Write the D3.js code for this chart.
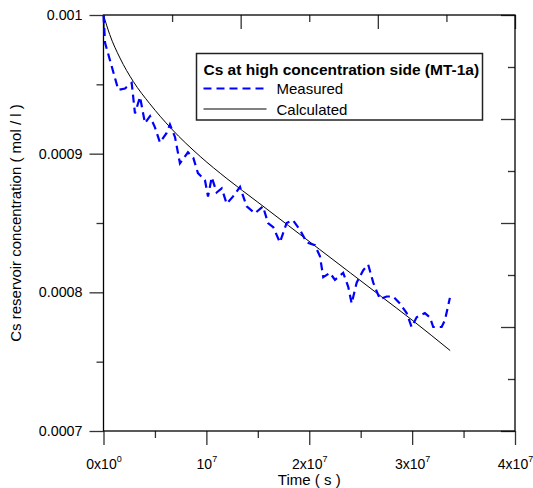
<!DOCTYPE html>
<html>
<head>
<meta charset="utf-8">
<script src="https://cdn.jsdelivr.net/npm/d3@7"></script>
<style>
  body { margin: 0; background: #fff; }
  text { font-family: "Liberation Sans", Arial, sans-serif; }
</style>
</head>
<body>
<div id="chart"></div>
<script>
// measured reservoir concentration (time in s, conc in mol/l)
var measuredTime = [0, 1.5e5, 1.44e6, 2.09e6, 2.74e6, 3.06e6, 3.55e6, 4.03e6, 4.52e6, 5.00e6,
  5.49e6, 6.14e6, 6.46e6, 6.95e6, 7.43e6, 8.21e6, 8.73e6, 9.18e6, 9.86e6, 1.016e7,
  1.052e7, 1.100e7, 1.149e7, 1.197e7, 1.258e7, 1.327e7, 1.392e7, 1.472e7, 1.550e7, 1.599e7,
  1.650e7, 1.715e7, 1.780e7, 1.842e7, 1.910e7, 1.975e7, 2.055e7, 2.104e7, 2.136e7, 2.201e7,
  2.250e7, 2.330e7, 2.379e7, 2.412e7, 2.461e7, 2.525e7, 2.573e7, 2.622e7, 2.687e7, 2.752e7,
  2.816e7, 2.881e7, 2.947e7, 2.995e7, 3.044e7, 3.124e7, 3.173e7, 3.205e7, 3.287e7, 3.319e7,
  3.367e7];
var measuredConc = [0.001, 0.000980, 0.000946, 0.000947, 0.000951, 0.000929, 0.000941, 0.000922, 0.000927, 0.000919,
  0.000908, 0.000915, 0.000921, 0.000912, 0.000893, 0.000901, 0.000897, 0.000886, 0.000881, 0.000869,
  0.000883, 0.000872, 0.000875, 0.000864, 0.000869, 0.000876, 0.000862, 0.000857, 0.000862, 0.000850,
  0.000847, 0.000836, 0.000850, 0.000852, 0.000845, 0.000836, 0.000834, 0.000826, 0.000811, 0.000814,
  0.000809, 0.000814, 0.000804, 0.000792, 0.000807, 0.000816, 0.000820, 0.000807, 0.000795, 0.000797,
  0.000797, 0.000792, 0.000785, 0.000775, 0.000782, 0.000785, 0.000782, 0.000775, 0.000775, 0.000780,
  0.000796];

// calculated curve
var calcTime = [0, 6e5, 1.6e6, 2.9e6, 4.5e6, 6.6e6, 9.4e6, 1.2e7, 1.5e7, 1.8e7, 2.1e7, 2.4e7, 2.7e7, 3.0e7, 3.37e7];
var calcConc = [0.001, 0.000986, 0.000969, 0.000952, 0.000936, 0.000918, 0.000898, 0.000882, 0.000865, 0.000848,
  0.000831, 0.000814, 0.000797, 0.000780, 0.000758];

// ticks
var xMajor = [0, 1e7, 2e7, 3e7, 4e7];
var xMinor = [0.5e7, 1.5e7, 2.5e7, 3.5e7];
var xTickBase = ["0x10", "10", "2x10", "3x10", "4x10"];
var xTickExp = ["0", "7", "7", "7", "7"];
var yMajor = [0.0007, 0.0008, 0.0009, 0.001];
var yMinor = [0.00075, 0.00085, 0.00095];
var yTickLabels = ["0.0007", "0.0008", "0.0009", "0.001"];
// top and right frame ticks (own divisions)
var topMajor = [0, 2, 4, 6], topMinor = [1, 3, 5];
var rightMajor = [0, 2, 4, 6, 8], rightMinor = [1, 3, 5, 7];

var margin = {top: 15, right: 18, bottom: 57, left: 103.5},
    width = 533 - margin.left - margin.right,
    height = 488 - margin.top - margin.bottom;

var svg = d3.select("#chart").append("svg")
    .attr("width", 533)
    .attr("height", 488)
  .append("g")
    .attr("transform", "translate(" + margin.left + "," + margin.top + ")");

var x = d3.scaleLinear().domain([0, 4e7]).range([0, width]);
var y = d3.scaleLinear().domain([0.0007, 0.001]).range([height, 0]);
var xTop = d3.scaleLinear().domain([0, 6]).range([0, width]);
var yRight = d3.scaleLinear().domain([0, 8]).range([height, 0]);

function styleAxis(g) {
  g.select(".domain").remove();
  g.selectAll(".tick line").attr("stroke", "#333").attr("stroke-width", 1.3);
}

// bottom axis
var gx = svg.append("g").attr("transform", "translate(0," + height + ")");
gx.append("g").call(d3.axisBottom(x).tickValues(xMinor).tickSize(7).tickFormat("")).call(styleAxis);
var gxMaj = gx.append("g").call(d3.axisBottom(x).tickValues(xMajor).tickSize(14).tickFormat("")).call(styleAxis);
gxMaj.selectAll(".tick text").each(function(d, i) {
  var t = d3.select(this).attr("y", 38).attr("dy", 0).attr("fill", "#000").attr("font-size", 14);
  t.append("tspan").text(xTickBase[i]);
  t.append("tspan").attr("font-size", 9).attr("dy", -7).text(xTickExp[i]);
});

// left axis
var gy = svg.append("g");
gy.append("g").call(d3.axisLeft(y).tickValues(yMinor).tickSize(7).tickFormat("")).call(styleAxis);
gy.append("g").call(d3.axisLeft(y).tickValues(yMajor).tickSize(14).tickPadding(7)
    .tickFormat(function(d, i) { return yTickLabels[i]; }))
  .call(styleAxis)
  .selectAll(".tick text").attr("fill", "#000").attr("font-size", 14.3);

// top axis (inward ticks)
svg.append("g").call(d3.axisBottom(xTop).tickValues(topMinor).tickSize(7).tickFormat("")).call(styleAxis);
svg.append("g").call(d3.axisBottom(xTop).tickValues(topMajor).tickSize(14).tickFormat("")).call(styleAxis);

// right axis (inward ticks)
var gr = svg.append("g").attr("transform", "translate(" + width + ",0)");
gr.append("g").call(d3.axisLeft(yRight).tickValues(rightMinor).tickSize(7).tickFormat("")).call(styleAxis);
gr.append("g").call(d3.axisLeft(yRight).tickValues(rightMajor).tickSize(14).tickFormat("")).call(styleAxis);

// frame
svg.append("rect")
    .attr("width", width)
    .attr("height", height)
    .attr("fill", "none")
    .attr("stroke", "#000")
    .attr("stroke-width", 1.3);

// lines
var calcData = calcTime.map(function(t, i) { return [t, calcConc[i]]; });
var measData = measuredTime.map(function(t, i) { return [t, measuredConc[i]]; });

svg.append("path")
    .datum(calcData)
    .attr("fill", "none")
    .attr("stroke", "#000")
    .attr("stroke-width", 1)
    .attr("d", d3.line().curve(d3.curveMonotoneX)
      .x(function(d) { return x(d[0]); })
      .y(function(d) { return y(d[1]); }));

svg.append("path")
    .datum(measData)
    .attr("fill", "none")
    .attr("stroke", "#0000ff")
    .attr("stroke-width", 2.2)
    .attr("stroke-dasharray", "8,5")
    .attr("d", d3.line()
      .x(function(d) { return x(d[0]); })
      .y(function(d) { return y(d[1]); }));

// axis titles
svg.append("text")
    .attr("x", width / 2)
    .attr("y", height + 54)
    .attr("text-anchor", "middle")
    .attr("font-size", 15)
    .text("Time ( s )");

svg.append("text")
    .attr("transform", "rotate(-90)")
    .attr("x", -height / 2)
    .attr("y", -margin.left + 21)
    .attr("text-anchor", "middle")
    .attr("font-size", 15)
    .text("Cs reservoir concentration ( mol / l )");

// legend
var lg = svg.append("g").attr("transform", "translate(" + (196.5 - margin.left) + "," + (53.5 - margin.top) + ")");
lg.append("rect")
    .attr("width", 286)
    .attr("height", 66.5)
    .attr("fill", "#fff")
    .attr("stroke", "#222")
    .attr("stroke-width", 1.5);
lg.append("text")
    .attr("x", 7)
    .attr("y", 21.5)
    .attr("font-size", 15.5)
    .attr("font-weight", "bold")
    .text("Cs at high concentration side (MT-1a)");
lg.append("line")
    .attr("x1", 7).attr("x2", 70).attr("y1", 35).attr("y2", 35)
    .attr("stroke", "#0000ff").attr("stroke-width", 2.2).attr("stroke-dasharray", "8,5");
lg.append("text").attr("x", 80).attr("y", 40.5).attr("font-size", 15).text("Measured");
lg.append("line")
    .attr("x1", 7).attr("x2", 70).attr("y1", 55.5).attr("y2", 55.5)
    .attr("stroke", "#000").attr("stroke-width", 1);
lg.append("text").attr("x", 80).attr("y", 61).attr("font-size", 15).text("Calculated");
</script>
</body>
</html>
